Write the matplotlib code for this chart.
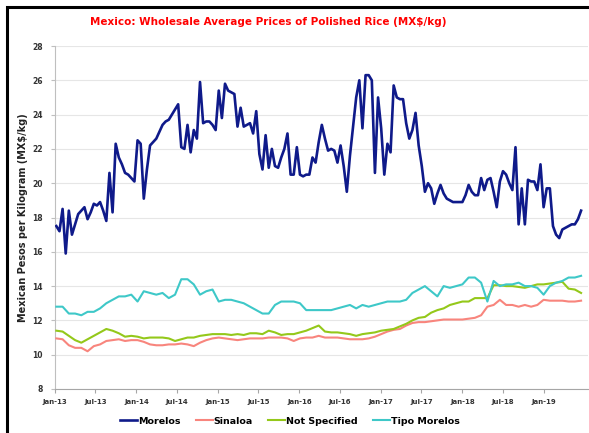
import matplotlib
matplotlib.use("Agg")
import matplotlib.pyplot as plt
from matplotlib.patches import Rectangle
import pandas as pd

# ---------------- data ----------------
title = "Mexico: Wholesale Average Prices of Polished Rice (MX$/kg)"
y_label = "Mexican Pesos per Kilogram (MX$/kg)"
series_names = ["Morelos", "Sinaloa", "Not Specified", "Tipo Morelos"]

morelos_start = "2013-01-07"
morelos_step = "14D"
morelos = [
    17.5, 17.2, 18.5, 15.9, 18.4, 17.0, 17.6, 18.2, 18.4, 18.6,
    17.9, 18.3, 18.8, 18.7, 18.9, 18.4, 17.8, 20.6, 18.3, 22.3,
    21.5, 21.1, 20.6, 20.5, 20.3, 20.1, 22.5, 22.3, 19.1, 20.8,
    22.2, 22.4, 22.6, 23.0, 23.4, 23.6, 23.7, 24.0, 24.3, 24.6,
    22.1, 22.0, 23.4, 21.8, 23.1, 22.6, 25.9, 23.5, 23.6, 23.6,
    23.4, 23.1, 25.4, 23.8, 25.8, 25.4, 25.3, 25.2, 23.3, 24.4,
    23.3, 23.4, 23.5, 22.9, 24.2, 21.7, 20.8, 22.8, 20.9, 22.0,
    21.0, 20.9, 21.5, 22.0, 22.9, 20.5, 20.5, 22.1, 20.5, 20.4,
    20.5, 20.5, 21.5, 21.2, 22.4, 23.4, 22.6, 21.9, 22.0, 21.9,
    21.2, 22.2, 21.0, 19.5, 21.6, 23.3, 25.0, 26.0, 23.2, 26.3,
    26.3, 26.0, 20.6, 25.0, 23.2, 20.5, 22.3, 21.8, 25.7, 25.0,
    24.9, 24.9, 23.5, 22.6, 23.1, 24.1, 22.2, 21.0, 19.5, 20.0,
    19.7, 18.8, 19.4, 19.9, 19.4, 19.1, 19.0, 18.9, 18.9, 18.9,
    18.9, 19.3, 19.9, 19.5, 19.3, 19.3, 20.3, 19.6, 20.2, 20.3,
    19.5, 18.6, 20.1, 20.7, 20.5, 20.0, 19.6, 22.1, 17.6, 19.7,
    17.6, 20.2, 20.1, 20.1, 19.6, 21.1, 18.6, 19.7, 19.7, 17.5,
    17.0, 16.8, 17.3, 17.4, 17.5, 17.6, 17.6, 17.9, 18.4,
]

others_start = "2013-01-07"
others_step = "28D"
sinaloa = [
    10.95, 10.9, 10.55, 10.4, 10.4, 10.2, 10.5, 10.6, 10.8, 10.85,
    10.9, 10.8, 10.85, 10.85, 10.75, 10.6, 10.55, 10.55, 10.6, 10.6,
    10.65, 10.6, 10.5, 10.7, 10.85, 10.95, 11.0, 10.95, 10.9, 10.85,
    10.9, 10.95, 10.95, 10.95, 11.0, 11.0, 11.0, 10.95, 10.8, 10.95,
    11.0, 11.0, 11.1, 11.0, 11.0, 11.0, 10.95, 10.9, 10.9, 10.9,
    10.95, 11.05, 11.2, 11.35, 11.45, 11.5, 11.7, 11.85, 11.9, 11.9,
    11.95, 12.0, 12.05, 12.05, 12.05, 12.05, 12.1, 12.15, 12.3, 12.8,
    12.9, 13.2, 12.9, 12.9, 12.8, 12.9, 12.8, 12.9, 13.2, 13.15,
    13.15, 13.15, 13.1, 13.1, 13.15,
]
not_specified = [
    11.4, 11.35, 11.1, 10.85, 10.7, 10.9, 11.1, 11.3, 11.5, 11.4,
    11.25, 11.05, 11.1, 11.05, 10.95, 11.0, 11.0, 11.0, 10.95, 10.8,
    10.9, 11.0, 11.0, 11.1, 11.15, 11.2, 11.2, 11.2, 11.15, 11.2,
    11.15, 11.25, 11.25, 11.2, 11.4, 11.3, 11.15, 11.2, 11.2, 11.3,
    11.4, 11.55, 11.7, 11.35, 11.3, 11.3, 11.25, 11.2, 11.1, 11.2,
    11.25, 11.3, 11.4, 11.45, 11.5, 11.65, 11.8, 12.0, 12.15, 12.2,
    12.45, 12.6, 12.7, 12.9, 13.0, 13.1, 13.1, 13.3, 13.3, 13.3,
    14.05, 14.05, 14.0, 14.0, 13.95, 13.9, 14.0, 14.1, 14.1, 14.15,
    14.2, 14.25, 13.85, 13.8, 13.6,
]
tipo_morelos = [
    12.8, 12.8, 12.4, 12.4, 12.3, 12.5, 12.5, 12.7, 13.0, 13.2,
    13.4, 13.4, 13.5, 13.1, 13.7, 13.6, 13.5, 13.6, 13.3, 13.5,
    14.4, 14.4, 14.1, 13.5, 13.7, 13.8, 13.1, 13.2, 13.2, 13.1,
    13.0, 12.8, 12.6, 12.4, 12.4, 12.9, 13.1, 13.1, 13.1, 13.0,
    12.6, 12.6, 12.6, 12.6, 12.6, 12.7, 12.8, 12.9, 12.7, 12.9,
    12.8, 12.9, 13.0, 13.1, 13.1, 13.1, 13.2, 13.6, 13.8, 14.0,
    13.7, 13.4, 14.0, 13.9, 14.0, 14.1, 14.5, 14.5, 14.2, 13.1,
    14.3, 14.0, 14.1, 14.1, 14.2, 14.0, 14.0, 13.9, 13.5, 14.0,
    14.2, 14.3, 14.5, 14.5, 14.6,
]

x_tick_dates = ["2013-01-01", "2013-07-01", "2014-01-01", "2014-07-01",
                "2015-01-01", "2015-07-01", "2016-01-01", "2016-07-01",
                "2017-01-01", "2017-07-01", "2018-01-01", "2018-07-01",
                "2019-01-01"]
x_tick_labels = ["Jan-13", "Jul-13", "Jan-14", "Jul-14", "Jan-15", "Jul-15",
                 "Jan-16", "Jul-16", "Jan-17", "Jul-17", "Jan-18", "Jul-18",
                 "Jan-19"]
y_ticks = [8, 10, 12, 14, 16, 18, 20, 22, 24, 26, 28]

# ---------------- plot ----------------
colors = ["#0f1a8a", "#f8857d", "#94c81a", "#3ec8c8"]
widths = [1.9, 1.5, 1.5, 1.5]

d_mor = pd.date_range(morelos_start, periods=len(morelos), freq=morelos_step)
d_oth = pd.date_range(others_start, periods=len(sinaloa), freq=others_step)

fig = plt.figure(figsize=(5.89, 4.33), dpi=100)
ax = fig.add_axes([55 / 589, 1 - 389 / 433, (588 - 55) / 589, (389 - 46) / 433])

ax.plot(d_mor, morelos, color=colors[0], lw=widths[0], label=series_names[0], zorder=5)
ax.plot(d_oth, sinaloa, color=colors[1], lw=widths[1], label=series_names[1], zorder=3)
ax.plot(d_oth, not_specified, color=colors[2], lw=widths[2], label=series_names[2], zorder=4)
ax.plot(d_oth, tipo_morelos, color=colors[3], lw=widths[3], label=series_names[3], zorder=4)

ax.set_ylim(8, 28)
ax.set_yticks(y_ticks)
ax.set_yticklabels([str(v) for v in y_ticks], fontsize=5.5, fontweight="bold", color="#333333")
ax.set_xlim(pd.Timestamp("2013-01-01"), pd.Timestamp("2019-07-18"))
ax.set_xticks(pd.to_datetime(x_tick_dates))
ax.set_xticklabels(x_tick_labels, fontsize=5, fontweight="bold", color="#333333")

ax.grid(axis="y", color="#e6e6e6", lw=0.8)
ax.set_axisbelow(True)
for s in ["top", "right"]:
    ax.spines[s].set_visible(False)
ax.spines["left"].set_color("#bfbfbf")
ax.spines["bottom"].set_color("#a6a6a6")
ax.spines["left"].set_linewidth(0.8)
ax.spines["bottom"].set_linewidth(0.8)
ax.tick_params(axis="y", length=3, color="#bfbfbf", pad=6)
ax.tick_params(axis="x", length=3, color="#a6a6a6", pad=4)

ax.set_ylabel(y_label, fontsize=7, fontweight="bold", color="#222222", labelpad=3)
fig.text(268 / 589, 1 - 22 / 433, title, color="#ff0000", fontsize=7.5,
         fontweight="bold", ha="center", va="center")

fig.legend(loc="center", bbox_to_anchor=(290 / 589, 1 - 421 / 433), ncol=4,
           frameon=False, prop={"size": 6.8, "weight": "bold"},
           handlelength=1.8, columnspacing=1.6, handletextpad=0.1)

fig.patches.append(Rectangle((7 / 589, -0.2), 1.5, 1.2 - 7 / 433, transform=fig.transFigure,
                             fill=False, edgecolor="black", lw=2.2))

fig.savefig("out.png", dpi=100)
